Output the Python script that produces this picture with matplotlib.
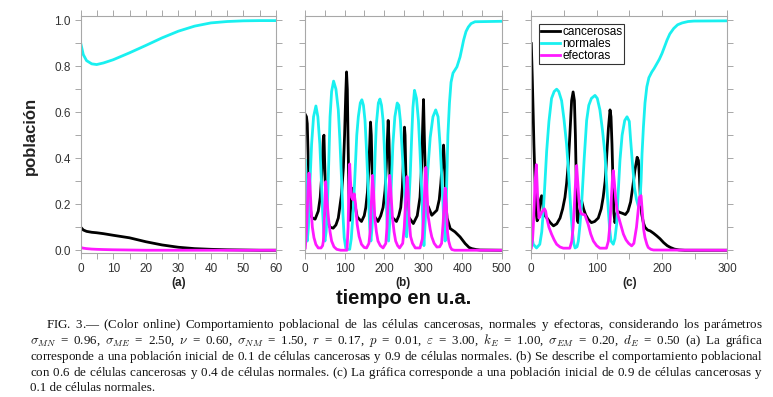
import numpy as np
import matplotlib
matplotlib.use("Agg")
import matplotlib.pyplot as plt
from matplotlib.ticker import MultipleLocator

plt.rcParams['font.family'] = ['Liberation Sans', 'DejaVu Sans']
plt.rcParams['mathtext.fontset'] = 'cm'

# ---- panel (a): 0.1 cancerosas, 0.9 normales ----
a_t = [0, 0.8, 1.8, 3.4, 4.9, 7, 10, 15, 20, 25, 30, 35, 40, 45, 50, 55, 60]
a_canc = [0.1, 0.088, 0.082, 0.078, 0.076, 0.072, 0.065, 0.054, 0.037, 0.023,
          0.013, 0.007, 0.004, 0.002, 0.001, 0.0, 0.0]
a_norm = [0.9, 0.85, 0.824, 0.81, 0.807, 0.814, 0.828, 0.858, 0.89, 0.923,
          0.952, 0.974, 0.988, 0.994, 0.997, 0.998, 0.998]
a_efec = [0.012, 0.009, 0.007, 0.005, 0.004, 0.003, 0.002, 0.001, 0.0, 0.0,
          0.0, 0.0, 0.0, 0.0, 0.0, 0.0, 0.0]

# ---- panel (b): 0.6 cancerosas, 0.4 normales ----
b_t_canc = [0, 3, 5, 7.5, 10, 12, 15, 18, 25, 33, 38, 42, 44, 46, 47.5, 49, 51, 54, 58, 63,
            71, 78, 84, 92, 97, 100, 103, 105, 107, 109, 111, 113.5, 116, 119, 122, 126, 132,
            143, 150, 154, 158, 161, 164, 166, 168, 170, 172.5, 175, 185, 192, 198, 203, 206,
            209, 211, 213, 215, 217, 220, 232, 238, 243, 247, 250, 252.5, 254, 256, 259, 263,
            275, 285, 292, 296, 299, 301, 303, 306, 309, 313, 322, 335, 341, 345, 349, 352,
            355, 358, 361, 369, 381, 394, 407, 417, 424, 435, 445, 500]
b_canc = [0.59, 0.58, 0.55, 0.39, 0.27, 0.2, 0.15, 0.14, 0.135, 0.17, 0.23, 0.33, 0.41, 0.49,
          0.5, 0.4, 0.28, 0.16, 0.12, 0.1, 0.096, 0.11, 0.14, 0.24, 0.36, 0.5, 0.68, 0.775,
          0.7, 0.46, 0.25, 0.13, 0.2, 0.25, 0.27, 0.2, 0.145, 0.125, 0.15, 0.186, 0.25, 0.34,
          0.46, 0.557, 0.5, 0.35, 0.2, 0.15, 0.125, 0.15, 0.186, 0.26, 0.36, 0.48, 0.564,
          0.48, 0.346, 0.2, 0.145, 0.125, 0.15, 0.186, 0.27, 0.4, 0.535, 0.5, 0.33, 0.18,
          0.145, 0.116, 0.15, 0.23, 0.36, 0.55, 0.655, 0.5, 0.3, 0.2, 0.19, 0.152, 0.174,
          0.22, 0.29, 0.39, 0.457, 0.35, 0.2, 0.14, 0.094, 0.08, 0.058, 0.029, 0.012, 0.007,
          0.003, 0.001, 0.0]

b_t_norm = [0, 2, 5, 8, 12, 16, 21, 27, 32, 37, 41, 44, 47, 50, 53, 56, 60, 63, 67, 72, 78,
            84, 88, 92, 96, 99, 103, 105, 113, 117, 122, 127, 131, 135, 140, 144, 148, 152,
            156, 160, 164, 167, 170, 174, 178, 181, 186, 190, 194, 198, 202, 205, 209, 212,
            215, 219, 223, 228, 234, 238, 242, 246, 250, 254, 258, 262, 267, 271, 274, 278,
            283, 288, 292, 297, 300, 302, 306, 312, 318, 325, 332, 338, 343, 348, 352, 356,
            358, 360, 363, 367, 371, 376, 386, 394, 399, 403, 409, 415, 422, 432, 500]
b_norm = [0.39, 0.2, 0.04, 0.1, 0.3, 0.46, 0.58, 0.627, 0.58, 0.46, 0.3, 0.17, 0.08, 0.04,
          0.08, 0.17, 0.4, 0.58, 0.69, 0.735, 0.7, 0.61, 0.48, 0.32, 0.15, 0.055, 0.01, 0.004,
          0.004, 0.05, 0.17, 0.35, 0.5, 0.58, 0.64, 0.654, 0.63, 0.564, 0.43, 0.27, 0.1, 0.04,
          0.1, 0.23, 0.43, 0.55, 0.64, 0.657, 0.63, 0.564, 0.42, 0.27, 0.08, 0.04, 0.12, 0.29,
          0.46, 0.58, 0.64, 0.63, 0.564, 0.45, 0.33, 0.22, 0.058, 0.15, 0.32, 0.5, 0.62, 0.695,
          0.66, 0.565, 0.43, 0.23, 0.08, 0.02, 0.15, 0.35, 0.49, 0.58, 0.61, 0.58, 0.46, 0.3,
          0.145, 0.04, 0.12, 0.29, 0.5, 0.64, 0.73, 0.77, 0.797, 0.84, 0.88, 0.913, 0.95,
          0.97, 0.985, 0.993, 0.995]

b_t_efec = [0, 3, 5, 7, 9.5, 12, 15, 18, 22, 27, 33, 40, 44, 46, 49, 52, 55, 59, 63, 67, 73,
            80, 90, 106, 109, 111, 113, 115, 118, 121, 124.5, 128, 132, 137, 143, 150, 156,
            162, 165, 168, 171, 174, 177, 181, 185, 191, 198, 205, 208, 211, 215, 218, 222,
            226, 230, 235, 240, 248, 252, 255, 259, 262, 265, 268, 273, 280, 292, 298, 302,
            305, 307, 309, 313, 318, 322, 328, 335, 342, 347, 351, 354, 356, 359, 362, 365,
            369, 373, 380, 500]
b_efec = [0.01, 0.08, 0.17, 0.28, 0.335, 0.28, 0.17, 0.1, 0.055, 0.025, 0.01, 0.01, 0.02,
          0.04, 0.16, 0.298, 0.22, 0.14, 0.08, 0.04, 0.015, 0.004, 0.0, 0.0, 0.1, 0.28, 0.375,
          0.3, 0.23, 0.22, 0.245, 0.2, 0.113, 0.06, 0.026, 0.012, 0.01, 0.03, 0.08, 0.2, 0.325,
          0.25, 0.14, 0.08, 0.04, 0.02, 0.01, 0.03, 0.1, 0.22, 0.325, 0.25, 0.14, 0.08, 0.04,
          0.02, 0.01, 0.03, 0.1, 0.2, 0.32, 0.25, 0.12, 0.06, 0.03, 0.01, 0.01, 0.05, 0.17,
          0.32, 0.36, 0.28, 0.145, 0.09, 0.058, 0.03, 0.014, 0.015, 0.03, 0.12, 0.22, 0.27,
          0.2, 0.08, 0.04, 0.015, 0.003, 0.0, 0.0]

# ---- panel (c): 0.9 cancerosas, 0.1 normales ----
c_t_canc = [0, 1.5, 3, 4, 5.5, 6.6, 8, 9, 10.7, 12.5, 14, 15.8, 17, 18.5, 21, 24, 29, 34, 39,
            44, 48, 51.5, 54, 56.6, 59, 61.7, 64, 66, 67.5, 68.5, 69.5, 70.5, 72, 74, 77, 80,
            83, 87, 92, 97, 102.5, 107, 110, 113, 115, 118, 120.5, 122, 123.5, 125, 126.5, 128,
            130, 132, 135, 140, 144, 148, 152, 155, 158.5, 162, 164, 165.5, 167, 169, 171.5,
            174, 178, 182, 187, 192, 197, 202.6, 208, 213, 219, 226, 235, 300]
c_canc = [0.898, 0.75, 0.58, 0.46, 0.32, 0.23, 0.15, 0.128, 0.14, 0.18, 0.22, 0.237, 0.22,
          0.17, 0.15, 0.14, 0.12, 0.106, 0.115, 0.14, 0.18, 0.23, 0.29, 0.375, 0.5, 0.65,
          0.688, 0.65, 0.5, 0.35, 0.2, 0.128, 0.12, 0.17, 0.215, 0.18, 0.155, 0.135, 0.12,
          0.125, 0.14, 0.18, 0.23, 0.3, 0.39, 0.53, 0.61, 0.58, 0.46, 0.3, 0.16, 0.12, 0.15,
          0.17, 0.165, 0.16, 0.155, 0.17, 0.21, 0.27, 0.346, 0.404, 0.39, 0.317, 0.22, 0.157,
          0.12, 0.1, 0.088, 0.084, 0.074, 0.0625, 0.05, 0.033, 0.02, 0.012, 0.005, 0.0015,
          0.0, 0.0]

c_t_norm = [0, 1.5, 3, 8, 13, 16, 18.4, 21, 23.5, 27, 31, 35, 38.8, 42, 46.4, 50, 54, 57, 59,
            61, 62.8, 65, 67, 70, 72, 74.5, 77, 81, 84.7, 88, 92, 97.5, 101, 105, 109, 112.7,
            115.5, 118, 120, 122, 125.5, 128, 130.6, 133, 135.7, 139, 143, 146.5, 150, 152,
            155, 158, 161, 164, 166, 168, 169.5, 171.6, 174, 176.8, 180, 184.5, 188, 192, 196,
            200, 204, 207.7, 212, 218, 224, 231, 240, 249, 300]
c_norm = [0.1, 0.05, 0.026, 0.01, 0.026, 0.08, 0.17, 0.3, 0.43, 0.56, 0.66, 0.69, 0.7, 0.69,
          0.65, 0.57, 0.46, 0.34, 0.244, 0.15, 0.084, 0.03, 0.01, 0.015, 0.04, 0.11, 0.2, 0.4,
          0.564, 0.63, 0.66, 0.673, 0.66, 0.61, 0.52, 0.42, 0.28, 0.17, 0.09, 0.04, 0.026,
          0.05, 0.113, 0.25, 0.39, 0.5, 0.564, 0.58, 0.56, 0.48, 0.37, 0.27, 0.22, 0.19, 0.2,
          0.3, 0.42, 0.535, 0.64, 0.71, 0.75, 0.775, 0.79, 0.81, 0.83, 0.855, 0.885, 0.913,
          0.94, 0.964, 0.98, 0.988, 0.994, 0.996, 0.997]

c_t_efec = [0, 2, 3, 4.5, 5.6, 7.7, 9.7, 11.7, 13.5, 15.8, 20, 22, 23.5, 27, 31, 35, 38.8, 44,
            49, 59, 62, 64, 66, 67.8, 69.4, 71, 73, 75, 77, 82, 87, 91, 95, 100, 105, 115, 118,
            120, 122, 124, 125.5, 127, 129, 131, 133, 137, 141, 145, 149, 153.6, 157, 161,
            163.5, 165.5, 168, 170.6, 172, 174, 177, 179, 183, 187, 300]
c_efec = [0.01, 0.05, 0.1, 0.2, 0.29, 0.372, 0.23, 0.14, 0.15, 0.164, 0.18, 0.17, 0.142, 0.1,
          0.07, 0.045, 0.026, 0.014, 0.009, 0.009, 0.04, 0.1, 0.2, 0.3, 0.368, 0.3, 0.215,
          0.17, 0.157, 0.154, 0.113, 0.07, 0.04, 0.02, 0.009, 0.009, 0.04, 0.1, 0.2, 0.3,
          0.346, 0.3, 0.23, 0.18, 0.15, 0.11, 0.07, 0.045, 0.03, 0.019, 0.03, 0.1, 0.17, 0.23,
          0.237, 0.142, 0.09, 0.055, 0.025, 0.012, 0.004, 0.001, 0.0]

panel_labels = ['(a)', '(b)', '(c)']
xlims = [60, 500, 300]
x_major = [10, 100, 100]
x_minor = [5, 50, 50]
series_names = ['cancerosas', 'normales', 'efectoras']

caption = [
    "FIG. 3.— (Color online) Comportamiento poblacional de las células cancerosas, normales y efectoras, considerando los parámetros",
    r"$\sigma_{MN}$ = 0.96, $\sigma_{ME}$ = 2.50, $\nu$ = 0.60, $\sigma_{NM}$ = 1.50, $r$ = 0.17, $p$ = 0.01, $\varepsilon$ = 3.00, $k_E$ = 1.00, $\sigma_{EM}$ = 0.20, $d_E$ = 0.50 (a) La gráfica",
    "corresponde a una población inicial de 0.1 de células cancerosas y 0.9 de células normales. (b) Se describe el comportamiento poblacional",
    "con 0.6 de células cancerosas y 0.4 de células normales. (c) La gráfica corresponde a una población inicial de 0.9 de células cancerosas y",
    "0.1 de células normales.",
]

W, H = 773, 397
fig = plt.figure(figsize=(W / 100, H / 100), dpi=100)

C_BLACK = 'black'
C_CYAN = '#19f0f0'
C_MAG = '#ff19ff'
LW = 2.0

lefts = [80.7, 305.3, 531.3]
widths = [195.3, 196.4, 196.0]
data = [
    ((a_t, a_canc), (a_t, a_norm), (a_t, a_efec)),
    ((b_t_canc, b_canc), (b_t_norm, b_norm), (b_t_efec, b_efec)),
    ((c_t_canc, c_canc), (c_t_norm, c_norm), (c_t_efec, c_efec)),
]

axes = []
for i in range(3):
    ax = fig.add_axes([lefts[i] / W, 144 / H, widths[i] / W, 237 / H])
    (tc, yc), (tn, yn), (te, ye) = data[i]
    ax.plot(tc, yc, color=C_BLACK, lw=LW, label=series_names[0])
    ax.plot(tn, yn, color=C_CYAN, lw=LW, label=series_names[1])
    ax.plot(te, ye, color=C_MAG, lw=LW, label=series_names[2])
    ax.set_xlim(0, xlims[i])
    ax.set_ylim(-0.012, 1.018)
    ax.xaxis.set_major_locator(MultipleLocator(x_major[i]))
    ax.xaxis.set_minor_locator(MultipleLocator(x_minor[i]))
    ax.yaxis.set_major_locator(MultipleLocator(0.2))
    ax.yaxis.set_minor_locator(MultipleLocator(0.1))
    ax.yaxis.set_major_formatter(plt.FormatStrFormatter('%.1f'))
    for s in ax.spines.values():
        s.set_color('#a8a8a8')
        s.set_linewidth(0.8)
    ax.tick_params(which='both', direction='out', length=4, width=0.7, color='#a8a8a8',
                   top=True, right=True, labelsize=8.5, labelcolor='#333333', pad=3)
    if i > 0:
        ax.tick_params(labelleft=False)
    ax.text(0.5, -0.125, panel_labels[i], transform=ax.transAxes, ha='center', va='center',
            fontsize=8.5, fontweight='bold', color='#222222')
    axes.append(ax)

leg = axes[2].legend(loc='upper left', bbox_to_anchor=(539 / W, 1 - 24 / H),
                     bbox_transform=fig.transFigure, fontsize=8.5, frameon=True,
                     fancybox=False, borderaxespad=0, borderpad=0.15, handlelength=1.6,
                     handletextpad=0.2, labelspacing=0.0)
leg.get_frame().set_edgecolor('black')
leg.get_frame().set_linewidth(0.8)

fig.text(30 / W, 1 - 136 / H, 'población', rotation=90, ha='center', va='center',
         fontsize=12, fontweight='bold', color='#222222')
fig.text(404 / W, 1 - 298 / H, 'tiempo en u.a.', ha='center', va='center',
         fontsize=14.5, fontweight='bold', color='#111111')


# caption: one text per line, justified with mathtext \hspace between words
def join_words(words, e):
    sp = r'\hspace{%.4f}' % e
    s = words[0]
    for w in words[1:]:
        if s.endswith('$') and w.startswith('$'):
            s = s[:-1] + sp + w[1:]
        elif s.endswith('$'):
            s = s[:-1] + sp + '$' + w
        elif w.startswith('$'):
            s = s + '$' + sp + w[1:]
        else:
            s = s + '$' + sp + '$' + w
    return s


cap_kw = dict(fontsize=9.4, family='Liberation Serif', va='baseline', color='#111111')
baselines = [328, 344, 360, 376, 391]
starts = [46, 30, 30, 30, 30]
right = 763
renderer = fig.canvas.get_renderer()
for k, line in enumerate(caption):
    y = 1 - baselines[k] / H
    if k == len(caption) - 1:
        fig.text(starts[k] / W, y, line, **cap_kw)
        continue
    words = line.split(' ')
    t = fig.text(starts[k] / W, y, join_words(words, 0.0), **cap_kw)
    w0 = t.get_window_extent(renderer).width
    t.set_text(join_words(words, 1.0))
    w1 = t.get_window_extent(renderer).width
    e = (right - starts[k] - w0) / (w1 - w0)
    t.set_text(join_words(words, e))

fig.savefig('out.png', dpi=100)
